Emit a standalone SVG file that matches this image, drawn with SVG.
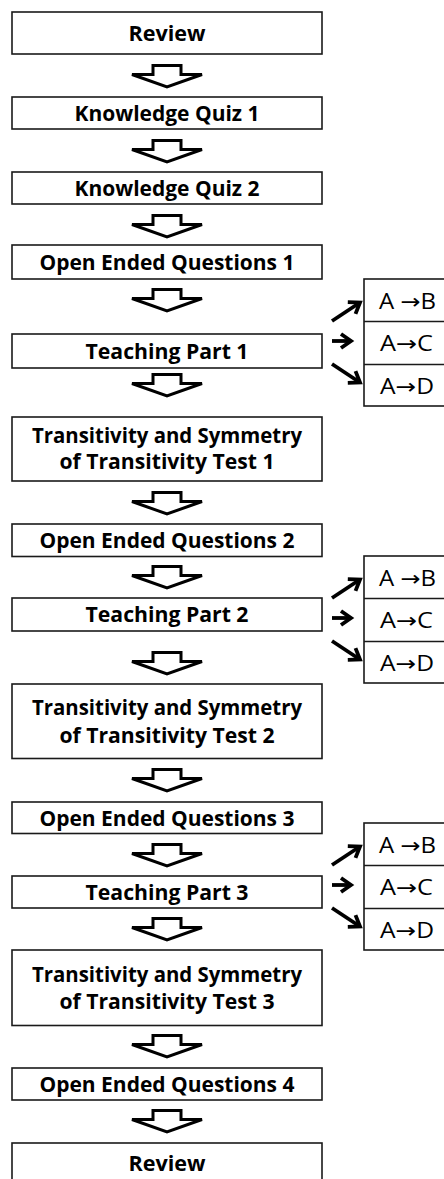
<svg xmlns="http://www.w3.org/2000/svg" xmlns:xlink="http://www.w3.org/1999/xlink" width="444" height="1179" viewBox="0 0 444 1179">
<style>
.box{fill:#fff;stroke:#1a1a1a;stroke-width:1.6}
.t{font-family:"Open Sans",Lato,"Liberation Sans",sans-serif;font-weight:bold;font-size:20.5px;fill:#000;text-anchor:middle}
.s{font-family:"Open Sans","DejaVu Sans","Liberation Sans",sans-serif;font-size:21px;fill:#000}
.blk{fill:#fff;stroke:#000;stroke-width:3;stroke-linejoin:miter}
.sa{stroke:#000;stroke-width:3.8;fill:none;marker-end:url(#ah)}
</style>
<defs>
<path id="blk" class="blk" d="M-14,1.5 H14 V10.5 H35 L0,23 L-35,10.5 H-14 Z"/>
<marker id="ah" markerUnits="userSpaceOnUse" markerWidth="20" markerHeight="20" refX="11" refY="8.5" orient="auto" overflow="visible">
<path d="M1,1.5 L11,8.5 L1,15.5" fill="none" stroke="#000" stroke-width="3.8" stroke-linejoin="miter"/>
</marker>
<g id="side">
<rect class="box" x="364" y="0" width="100" height="127"/>
<line x1="364" y1="42.5" x2="444" y2="42.5" stroke="#1a1a1a" stroke-width="1.6"/>
<line x1="364" y1="85.5" x2="444" y2="85.5" stroke="#1a1a1a" stroke-width="1.6"/>
</g>
</defs>

<g id="n1"><rect class="box" x="12" y="12" width="310" height="42"/><text class="t" x="167" y="40.5" textLength="77" lengthAdjust="spacingAndGlyphs">Review</text></g>
<g id="n2"><rect class="box" x="12" y="97" width="310" height="32"/><text class="t" x="167" y="120.5" textLength="185" lengthAdjust="spacingAndGlyphs">Knowledge Quiz 1</text></g>
<g id="n3"><rect class="box" x="12" y="172" width="310" height="32"/><text class="t" x="167" y="195.5" textLength="185" lengthAdjust="spacingAndGlyphs">Knowledge Quiz 2</text></g>
<g id="n4"><rect class="box" x="12" y="245" width="310" height="34"/><text class="t" x="167" y="269.5" textLength="255" lengthAdjust="spacingAndGlyphs">Open Ended Questions 1</text></g>
<g id="n5"><rect class="box" x="12" y="334" width="310" height="34"/><text class="t" x="167" y="358.5" textLength="163" lengthAdjust="spacingAndGlyphs">Teaching Part 1</text></g>
<g id="n6"><rect class="box" x="12" y="417" width="310" height="64"/><text class="t" x="167" y="442.5" textLength="270" lengthAdjust="spacingAndGlyphs">Transitivity and Symmetry</text><text class="t" x="167" y="469" textLength="215" lengthAdjust="spacingAndGlyphs">of Transitivity Test 1</text></g>
<g id="n7"><rect class="box" x="12" y="524" width="310" height="32.5"/><text class="t" x="167" y="548" textLength="255" lengthAdjust="spacingAndGlyphs">Open Ended Questions 2</text></g>
<g id="n8"><rect class="box" x="12" y="598" width="310" height="33"/><text class="t" x="167" y="622" textLength="163" lengthAdjust="spacingAndGlyphs">Teaching Part 2</text></g>
<g id="n9"><rect class="box" x="12" y="684" width="310" height="74.5"/><text class="t" x="167" y="715" textLength="270" lengthAdjust="spacingAndGlyphs">Transitivity and Symmetry</text><text class="t" x="167" y="742.5" textLength="215" lengthAdjust="spacingAndGlyphs">of Transitivity Test 2</text></g>
<g id="n10"><rect class="box" x="12" y="802" width="310" height="31.5"/><text class="t" x="167" y="825.5" textLength="255" lengthAdjust="spacingAndGlyphs">Open Ended Questions 3</text></g>
<g id="n11"><rect class="box" x="12" y="876" width="310" height="32"/><text class="t" x="167" y="899.5" textLength="163" lengthAdjust="spacingAndGlyphs">Teaching Part 3</text></g>
<g id="n12"><rect class="box" x="12" y="950" width="310" height="75.5"/><text class="t" x="167" y="982" textLength="270" lengthAdjust="spacingAndGlyphs">Transitivity and Symmetry</text><text class="t" x="167" y="1009" textLength="215" lengthAdjust="spacingAndGlyphs">of Transitivity Test 3</text></g>
<g id="n13"><rect class="box" x="12" y="1068" width="310" height="32"/><text class="t" x="167" y="1091.5" textLength="255" lengthAdjust="spacingAndGlyphs">Open Ended Questions 4</text></g>
<g id="n14"><rect class="box" x="12" y="1143" width="310" height="60"/><text class="t" x="167" y="1171" textLength="77" lengthAdjust="spacingAndGlyphs">Review</text></g>

<g id="s1" transform="translate(0,279)"><use xlink:href="#side" href="#side"/><text class="s" x="379" y="29.5" textLength="57" lengthAdjust="spacingAndGlyphs">A →B</text><text class="s" x="380" y="72" textLength="53" lengthAdjust="spacingAndGlyphs">A→C</text><text class="s" x="380" y="114.5" textLength="54" lengthAdjust="spacingAndGlyphs">A→D</text></g>
<g id="s2" transform="translate(0,556)"><use xlink:href="#side" href="#side"/><text class="s" x="379" y="29.5" textLength="57" lengthAdjust="spacingAndGlyphs">A →B</text><text class="s" x="380" y="72" textLength="53" lengthAdjust="spacingAndGlyphs">A→C</text><text class="s" x="380" y="114.5" textLength="54" lengthAdjust="spacingAndGlyphs">A→D</text></g>
<g id="s3" transform="translate(0,823)"><use xlink:href="#side" href="#side"/><text class="s" x="379" y="29.5" textLength="57" lengthAdjust="spacingAndGlyphs">A →B</text><text class="s" x="380" y="72" textLength="53" lengthAdjust="spacingAndGlyphs">A→C</text><text class="s" x="380" y="114.5" textLength="54" lengthAdjust="spacingAndGlyphs">A→D</text></g>

<g id="connectors">
<use href="#blk" transform="translate(167,64)"/>
<use href="#blk" transform="translate(167,139)"/>
<use href="#blk" transform="translate(167,214)"/>
<use href="#blk" transform="translate(167,288)"/>
<use href="#blk" transform="translate(167,373)"/>
<use href="#blk" transform="translate(167,491)"/>
<use href="#blk" transform="translate(167,565)"/>
<use href="#blk" transform="translate(167,651)"/>
<use href="#blk" transform="translate(167,768)"/>
<use href="#blk" transform="translate(167,843)"/>
<use href="#blk" transform="translate(167,917)"/>
<use href="#blk" transform="translate(167,1034)"/>
<use href="#blk" transform="translate(167,1109)"/>
<g transform="translate(0,279)">
<line class="sa" x1="332" y1="42" x2="360" y2="23.5"/>
<line class="sa" x1="332" y1="62" x2="351" y2="62"/>
<line class="sa" x1="332" y1="85" x2="360" y2="103.5"/>
</g>
<g transform="translate(0,556)">
<line class="sa" x1="332" y1="42" x2="360" y2="23.5"/>
<line class="sa" x1="332" y1="62" x2="351" y2="62"/>
<line class="sa" x1="332" y1="85" x2="360" y2="103.5"/>
</g>
<g transform="translate(0,823)">
<line class="sa" x1="332" y1="42" x2="360" y2="23.5"/>
<line class="sa" x1="332" y1="62" x2="351" y2="62"/>
<line class="sa" x1="332" y1="85" x2="360" y2="103.5"/>
</g>
</g>
</svg>
